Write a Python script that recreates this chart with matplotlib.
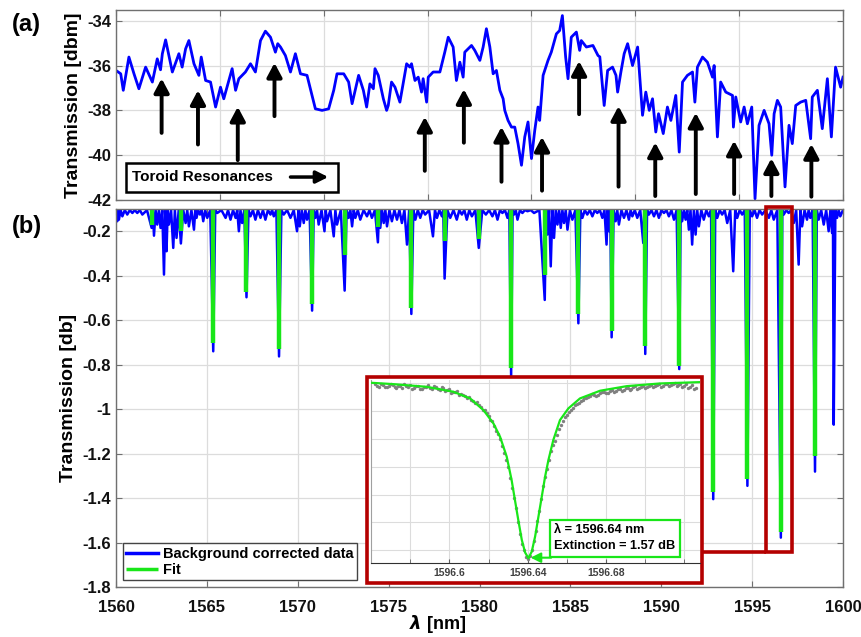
import numpy as np
import matplotlib.pyplot as plt
from matplotlib.patches import Rectangle

plt.rcParams['font.family'] = ['Liberation Sans', 'DejaVu Sans']
plt.rcParams['font.weight'] = 'bold'
plt.rcParams['axes.unicode_minus'] = False

# ---------------- (a) raw transmission [dBm] ----------------
lam_a = [1560.00, 1560.26, 1560.40, 1560.71, 1560.99, 1561.26, 1561.63, 1562.00, 1562.27, 1562.45,
         1562.55, 1562.73, 1563.10, 1563.46, 1563.64, 1563.83, 1564.01, 1564.29, 1564.56, 1564.69,
         1564.93, 1565.20, 1565.48, 1565.75, 1565.93, 1566.39, 1566.58, 1566.76, 1567.12, 1567.40,
         1567.67, 1567.95, 1568.22, 1568.50, 1568.77, 1568.90, 1569.05, 1569.32, 1569.60, 1569.87,
         1570.15, 1570.51, 1570.97, 1571.34, 1571.70, 1571.98, 1572.16, 1572.53, 1572.80, 1572.99,
         1573.35, 1573.61, 1573.79, 1573.97, 1574.16, 1574.25, 1574.43, 1574.71, 1574.89, 1574.98,
         1575.16, 1575.35, 1575.62, 1575.99, 1576.17, 1576.26, 1576.45, 1576.63, 1576.81, 1576.90,
         1577.09, 1577.18, 1577.45, 1577.82, 1578.09, 1578.28, 1578.55, 1578.73, 1578.92, 1579.10,
         1579.19, 1579.56, 1579.74, 1580.02, 1580.20, 1580.38, 1580.57, 1580.75, 1580.93, 1581.12,
         1581.30, 1581.39, 1581.57, 1581.76, 1581.94, 1582.12, 1582.31, 1582.49, 1582.67, 1582.86,
         1583.04, 1583.22, 1583.31, 1583.50, 1583.77, 1583.95, 1584.23, 1584.41, 1584.56, 1584.74,
         1584.87, 1585.05, 1585.33, 1585.51, 1585.60, 1585.88, 1586.24, 1586.52, 1586.62, 1586.86,
         1587.05, 1587.32, 1587.51, 1587.60, 1587.78, 1587.96, 1588.15, 1588.42, 1588.70, 1588.97,
         1589.15, 1589.34, 1589.52, 1589.70, 1589.85, 1590.11, 1590.34, 1590.53, 1590.80, 1590.99,
         1591.17, 1591.44, 1591.72, 1591.85, 1591.99, 1592.27, 1592.54, 1592.82, 1592.91, 1593.09,
         1593.27, 1593.55, 1593.92, 1593.97, 1594.10, 1594.37, 1594.56, 1594.74, 1594.98, 1595.16,
         1595.38, 1595.66, 1595.93, 1596.08, 1596.21, 1596.39, 1596.57, 1596.81, 1597.03, 1597.21,
         1597.40, 1597.67, 1597.95, 1598.22, 1598.31, 1598.59, 1598.86, 1599.14, 1599.36, 1599.59,
         1599.87, 1600.00]
trans_a = [-36.21, -36.36, -37.10, -35.61, -36.36, -37.03, -36.06, -36.73, -35.69, -36.18,
           -35.46, -34.84, -36.28, -35.46, -36.06, -35.24, -34.87, -35.91, -36.43, -35.61,
           -36.66, -36.73, -37.85, -36.96, -37.48, -36.13, -37.10, -36.58, -36.28, -35.91,
           -36.28, -34.87, -34.45, -34.72, -35.39, -35.01, -35.16, -35.54, -36.28, -35.46,
           -36.36, -36.43, -37.93, -38.00, -37.93, -37.10, -36.36, -36.36, -36.73, -37.70,
           -36.43, -37.10, -37.85, -36.81, -37.03, -36.13, -36.43, -37.48, -38.00, -37.78,
           -36.73, -36.96, -37.63, -35.91, -36.06, -35.91, -36.66, -36.51, -37.18, -36.58,
           -37.63, -36.51, -36.28, -36.28, -35.39, -34.72, -35.16, -36.66, -35.84, -36.51,
           -35.39, -35.09, -35.31, -35.76, -35.16, -34.34, -35.16, -36.36, -36.21, -37.10,
           -37.48, -38.00, -38.45, -38.75, -38.75, -39.49, -40.46, -39.19, -38.52, -40.16,
           -38.90, -37.85, -38.45, -36.43, -35.76, -35.39, -34.57, -34.42, -33.75, -35.61,
           -36.58, -34.72, -34.49, -35.31, -34.87, -35.16, -35.09, -35.54, -35.60, -37.78,
           -36.21, -36.06, -36.43, -37.18, -36.28, -35.46, -35.01, -35.99, -35.16, -38.22,
           -37.18, -38.00, -37.48, -38.97, -38.15, -39.04, -37.85, -38.45, -37.33, -39.87,
           -36.73, -36.43, -36.28, -37.63, -36.06, -35.61, -35.84, -36.51, -35.99, -39.19,
           -36.73, -37.18, -37.33, -38.75, -37.40, -38.52, -37.85, -38.60, -37.85, -41.96,
           -38.67, -38.00, -38.60, -40.01, -38.15, -37.55, -37.85, -41.43, -38.67, -39.49,
           -37.78, -37.63, -37.55, -39.27, -37.40, -37.10, -38.82, -36.58, -39.19, -36.06,
           -36.96, -36.51]

arrow_lam = [1562.51, 1564.51, 1566.70, 1568.72, 1576.99, 1579.14, 1581.21, 1583.44,
             1585.48, 1587.65, 1589.67, 1591.90, 1594.01, 1596.06, 1598.26]
arrow_tip = [-36.57, -37.10, -37.84, -35.87, -38.29, -37.05, -38.74, -39.19,
             -35.79, -37.81, -39.44, -38.11, -39.36, -40.15, -39.51]
arrow_tail = [-39.01, -39.53, -40.23, -38.26, -40.71, -39.45, -41.20, -41.60,
              -38.17, -41.42, -41.84, -41.75, -41.75, -41.84, -41.87]

# ---------------- (b) background corrected [dB] ----------------
res_lam = [1561.96, 1563.57, 1565.35, 1567.18, 1568.97, 1570.79, 1572.58, 1574.41, 1576.25, 1578.08,
           1579.96, 1581.74, 1583.59, 1585.44, 1587.27, 1589.12, 1590.99, 1592.86, 1594.74, 1596.58,
           1598.46]
fit_depth = [-0.17, -0.20, -0.703, -0.473, -0.73, -0.526, -0.305, -0.183, -0.545, -0.245,
             -0.237, -0.815, -0.395, -0.571, -0.65, -0.718, -0.808, -1.371, -1.315, -1.554,
             -1.209]
data_depth = [-0.185, -0.255, -0.74, -0.497, -0.763, -0.557, -0.467, -0.25, -0.572, -0.413,
              -0.275, -0.853, -0.509, -0.614, -0.677, -0.752, -0.82, -1.405, -1.345, -1.578,
              -1.281]

spike_lam = [1560.07, 1560.16, 1560.35, 1560.62, 1560.90, 1561.17, 1561.45, 1562.09, 1562.27, 1562.45,
             1562.64, 1562.78, 1562.91, 1563.15, 1563.33, 1563.83, 1564.01, 1564.29, 1564.43, 1564.62,
             1564.80, 1565.02, 1565.57, 1566.03, 1566.30, 1566.58, 1566.76, 1566.94, 1567.40, 1567.67,
             1567.95, 1568.22, 1568.50, 1568.68, 1569.23, 1569.60, 1569.96, 1570.11, 1570.33, 1570.51,
             1570.97, 1571.15, 1571.47, 1571.61, 1571.98, 1572.16, 1572.80, 1572.99, 1573.17, 1573.44,
             1573.81, 1574.08, 1574.54, 1574.73, 1574.91, 1575.18, 1575.46, 1575.73, 1576.01, 1576.47,
             1576.74, 1577.01, 1577.44, 1577.66, 1577.93, 1578.39, 1578.75, 1579.03, 1579.30, 1579.58,
             1580.35, 1580.71, 1580.99, 1581.26, 1581.54, 1581.90, 1582.09, 1582.36, 1582.64, 1583.00,
             1583.74, 1583.92, 1584.10, 1584.29, 1584.47, 1584.65, 1584.84, 1585.11, 1585.66, 1585.93,
             1586.21, 1586.48, 1586.76, 1586.99, 1587.12, 1587.49, 1587.67, 1587.95, 1588.22, 1588.41,
             1588.68, 1589.01, 1589.32, 1589.60, 1589.87, 1590.15, 1590.42, 1590.70, 1591.15, 1591.34,
             1591.52, 1591.70, 1591.89, 1592.07, 1592.34, 1592.62, 1593.08, 1593.35, 1593.63, 1593.96,
             1594.18, 1594.45, 1595.00, 1595.27, 1595.55, 1595.92, 1596.19, 1596.74, 1597.01, 1597.29,
             1597.56, 1597.75, 1598.02, 1598.20, 1598.66, 1598.94, 1599.21, 1599.40, 1599.49, 1599.67,
             1599.85]
spike_depth = [-0.155, -0.148, -0.133, -0.125, -0.118, -0.118, -0.125, -0.22, -0.17, -0.185,
               -0.395, -0.29, -0.17, -0.275, -0.23, -0.163, -0.178, -0.193, -0.14, -0.125,
               -0.155, -0.14, -0.118, -0.14, -0.148, -0.14, -0.20, -0.163, -0.133, -0.148,
               -0.14, -0.148, -0.125, -0.133, -0.125, -0.14, -0.20, -0.178, -0.163, -0.148,
               -0.14, -0.17, -0.20, -0.155, -0.223, -0.17, -0.14, -0.178, -0.14, -0.148,
               -0.133, -0.14, -0.185, -0.163, -0.178, -0.155, -0.148, -0.163, -0.26, -0.148,
               -0.14, -0.125, -0.223, -0.14, -0.133, -0.14, -0.148, -0.125, -0.148, -0.133,
               -0.125, -0.133, -0.148, -0.118, -0.14, -0.125, -0.148, -0.118, -0.11, -0.118,
               -0.215, -0.358, -0.23, -0.17, -0.185, -0.163, -0.193, -0.148, -0.14, -0.125,
               -0.133, -0.118, -0.14, -0.26, -0.20, -0.155, -0.17, -0.14, -0.148, -0.133,
               -0.14, -0.253, -0.125, -0.133, -0.14, -0.118, -0.133, -0.148, -0.155, -0.148,
               -0.193, -0.26, -0.215, -0.178, -0.148, -0.133, -0.14, -0.125, -0.163, -0.38,
               -0.14, -0.125, -0.133, -0.14, -0.125, -0.14, -0.148, -0.125, -0.118, -0.163,
               -0.35, -0.178, -0.148, -0.14, -0.148, -0.17, -0.20, -0.208, -1.07, -0.14,
               -0.133]

# ---------------- inset: resonance at 1596.64 nm ----------------
fit_lam_in = [1596.5603, 1596.5714, 1596.5884, 1596.6020, 1596.6106, 1596.6174, 1596.6225, 1596.6259,
              1596.6293, 1596.6318, 1596.6335, 1596.6352, 1596.6370, 1596.6387, 1596.6404, 1596.6421,
              1596.6438, 1596.6455, 1596.6472, 1596.6489, 1596.6506, 1596.6531, 1596.6565, 1596.6608,
              1596.6667, 1596.6770, 1596.6906, 1596.7076, 1596.7280]
fit_val_in = [0.0, -0.012, -0.036, -0.080, -0.140, -0.244, -0.363, -0.483,
              -0.661, -0.870, -1.049, -1.227, -1.406, -1.519, -1.570, -1.510,
              -1.376, -1.198, -1.019, -0.840, -0.691, -0.512, -0.334, -0.229,
              -0.140, -0.071, -0.030, -0.006, 0.006]
# measured points, two interleaved sweeps
dots_val_a = [-0.010, -0.035, -0.020, -0.042, -0.015, -0.038, -0.025, -0.050, -0.030, -0.020,
              -0.045, -0.028, -0.060, -0.035, -0.048, -0.025, -0.055, -0.040, -0.070, -0.055,
              -0.080, -0.075, -0.100, -0.115, -0.125, -0.160, -0.175, -0.215, -0.245, -0.300,
              -0.345, -0.430, -0.500, -0.630, -0.750, -0.945, -1.120, -1.355, -1.495, -1.575,
              -1.500, -1.330, -1.150, -0.920, -0.775, -0.610, -0.520, -0.410, -0.345, -0.285,
              -0.240, -0.200, -0.180, -0.150, -0.140, -0.120, -0.105, -0.110, -0.085, -0.095,
              -0.070, -0.080, -0.060, -0.072, -0.050, -0.062, -0.040, -0.055, -0.035, -0.048,
              -0.025, -0.040, -0.020, -0.035, -0.015, -0.030, -0.010, -0.025, -0.012, -0.030,
              -0.045, -0.020, -0.050]
dots_val_b = [-0.028, -0.012, -0.040, -0.030, -0.018, -0.045, -0.032, -0.015, -0.042, -0.060,
              -0.030, -0.052, -0.038, -0.022, -0.058, -0.040, -0.065, -0.048, -0.062, -0.090,
              -0.085, -0.110, -0.105, -0.140, -0.150, -0.185, -0.200, -0.240, -0.270, -0.330,
              -0.385, -0.460, -0.570, -0.690, -0.850, -1.030, -1.250, -1.440, -1.560, -1.550,
              -1.420, -1.240, -1.040, -0.840, -0.690, -0.560, -0.470, -0.380, -0.310, -0.260,
              -0.225, -0.190, -0.160, -0.135, -0.125, -0.100, -0.115, -0.090, -0.080, -0.088,
              -0.065, -0.075, -0.052, -0.065, -0.045, -0.058, -0.030, -0.048, -0.025, -0.042,
              -0.018, -0.032, -0.012, -0.028, -0.008, -0.022, -0.005, -0.018, -0.035, -0.015,
              -0.040, -0.055]
dots_lam_a = np.linspace(1596.562, 1596.726, len(dots_val_a))
dots_lam_b = np.linspace(1596.563, 1596.725, len(dots_val_b))

BLUE = '#0000ff'
GREEN = '#19e619'
RED = '#b40000'
GRID = '#dcdcdc'
SPINE = '#707070'

fig = plt.figure(figsize=(8.62, 6.37), dpi=100)
W, H = 862.0, 637.0
ax_a = fig.add_axes([116 / W, 1 - 199.6 / H, 727 / W, 189.6 / H])
ax_b = fig.add_axes([116 / W, 1 - 587 / H, 727 / W, 378 / H])

for ax in (ax_a, ax_b):
    for s in ax.spines.values():
        s.set_color(SPINE)
        s.set_linewidth(1.0)
    ax.tick_params(direction='in', top=True, right=True, colors=SPINE, labelcolor='#111111',
                   labelsize=12, length=4)
    ax.grid(True, color=GRID, lw=0.9)
    ax.set_axisbelow(True)

# ----- panel (a)
ax_a.plot(lam_a, trans_a, color=BLUE, lw=2.0, solid_joinstyle='round')
ax_a.set_xlim(1560, 1600)
ax_a.set_ylim(-42, -33.5)
ax_a.set_xticks(np.linspace(1560, 1600, 8))
ax_a.set_xticklabels([])
ax_a.set_yticks([-42, -40, -38, -36, -34])
ax_a.set_yticklabels(['-42', '-40', '-38', '-36', '-34'])
ax_a.set_ylabel('Transmission [dbm]', fontsize=14, fontweight='bold', labelpad=4)

for x, t0, t1 in zip(arrow_lam, arrow_tail, arrow_tip):
    ax_a.annotate('', xy=(x, t1), xytext=(x, t0),
                  arrowprops=dict(arrowstyle='-|>,head_length=0.6,head_width=0.32',
                                  color='k', lw=2.8, mutation_scale=14,
                                  shrinkA=0, shrinkB=0))

ax_a.add_patch(Rectangle((0.0133, 0.042), 0.292, 0.153, transform=ax_a.transAxes,
                         fc='white', ec='k', lw=1.8, zorder=4))
ax_a.text(0.022, 0.119, 'Toroid Resonances', transform=ax_a.transAxes, fontsize=11,
          fontweight='bold', va='center', ha='left', zorder=5)
ax_a.annotate('', xy=(0.292, 0.119), xytext=(0.240, 0.119), xycoords='axes fraction',
              arrowprops=dict(arrowstyle='-|>,head_length=0.6,head_width=0.3', color='k',
                              lw=2.5, mutation_scale=12, shrinkA=0, shrinkB=0), zorder=5)

# ----- panel (b)
bl = np.array(spike_lam + res_lam)
bd = np.array(spike_depth + data_depth)
order = np.argsort(bl)
bl, bd = bl[order], bd[order]
xb = np.empty(2 * len(bl) + 1)
yb = np.full(2 * len(bl) + 1, -0.105)
xb[1:-1:2] = bl
yb[1:-1:2] = bd
xb[2:-1:2] = (bl[:-1] + bl[1:]) / 2
xb[0], xb[-1] = 1560, 1600
ax_b.plot(xb, yb, color=BLUE, lw=1.8, label='Background corrected data')

n = len(res_lam)
xg = np.column_stack([res_lam, res_lam, np.full(n, np.nan)]).ravel()
yg = np.column_stack([np.full(n, -0.1), fit_depth, np.full(n, np.nan)]).ravel()
ax_b.plot(xg, yg, color=GREEN, lw=3.2, solid_capstyle='butt', label='Fit')

ax_b.set_xlim(1560, 1600)
ax_b.set_ylim(-1.8, -0.1)
ax_b.set_xticks(np.arange(1560, 1601, 5))
ax_b.set_xticklabels([str(v) for v in range(1560, 1601, 5)])
yt = [-1.8, -1.6, -1.4, -1.2, -1.0, -0.8, -0.6, -0.4, -0.2]
ax_b.set_yticks(yt)
ax_b.set_yticklabels(['-1.8', '-1.6', '-1.4', '-1.2', '-1', '-0.8', '-0.6', '-0.4', '-0.2'])
ax_b.tick_params(axis='x', pad=9)
ax_b.set_ylabel('Transmission [db]', fontsize=14, fontweight='bold', labelpad=4)
ax_b.set_xlabel(r'$\lambda$ [nm]', fontsize=13, fontweight='bold')
ax_b.xaxis.set_label_coords(0.443, -0.07)

leg = ax_b.legend(loc='lower left', prop={'weight': 'bold', 'size': 10.5}, fancybox=False,
                  edgecolor='#444444', framealpha=1, borderaxespad=0.45, handlelength=2.2,
                  handletextpad=0.3, borderpad=0.25, labelspacing=0.15)
leg.get_frame().set_linewidth(1.0)
for h in leg.legend_handles:
    h.set_linewidth(2.5)

# highlight box around the zoomed resonance + connector to the inset
ax_b.add_patch(Rectangle((1595.77, -1.641), 1.43, 1.55, fill=False, ec=RED, lw=2.6,
                         clip_on=False, zorder=6))
ax_b.plot([1592.2, 1595.77], [-1.641, -1.641], color=RED, lw=2.6, zorder=6,
          solid_capstyle='butt')

# ----- inset
frame = Rectangle((366.7 / W, 1 - 582.7 / H), (702.3 - 366.7) / W, (582.7 - 377.3) / H,
                  transform=fig.transFigure, fc='white', ec=RED, lw=2.6, zorder=2)
fig.add_artist(frame)

ax_in = fig.add_axes([371 / W, 1 - 562.7 / H, 329 / W, 182.7 / H], zorder=3)
ax_in.scatter(dots_lam_a, dots_val_a, s=6, color='#808080', zorder=3, lw=0)
ax_in.scatter(dots_lam_b, dots_val_b, s=6, color='#808080', zorder=3, lw=0)
ax_in.plot(fit_lam_in, fit_val_in, color=GREEN, lw=1.6, zorder=4)
ax_in.set_xlim(1596.56, 1596.728)
ax_in.set_ylim(-1.61, 0.025)
ax_in.set_xticks([1596.6, 1596.64, 1596.68])
ax_in.set_xticklabels(['1596.6', '1596.64', '1596.68'])
ax_in.set_xticks([1596.58, 1596.62, 1596.66, 1596.70, 1596.72], minor=True)
ax_in.set_yticks([-1.5, -1.25, -1.0, -0.75, -0.5, -0.25, 0.0])
ax_in.tick_params(axis='y', left=False, labelleft=False)
ax_in.tick_params(axis='x', which='both', direction='in', length=3, labelsize=7.5,
                  labelcolor='#404040', colors='#606060', pad=4)
ax_in.grid(True, which='both', color=GRID, lw=0.8)
ax_in.set_axisbelow(True)
for side in ('top', 'right'):
    ax_in.spines[side].set_visible(False)
ax_in.spines['left'].set_color('#a0a0a0')
ax_in.spines['bottom'].set_color('#303030')

ax_in.text(1596.6535, -1.39, 'λ = 1596.64 nm\nExtinction = 1.57 dB', fontsize=9.2,
           fontweight='bold', va='center', ha='left', linespacing=1.45, zorder=6,
           bbox=dict(boxstyle='square,pad=0.35', fc='white', ec=GREEN, lw=1.6))
ax_in.annotate('', xy=(1596.6415, -1.565), xytext=(1596.6520, -1.565),
               arrowprops=dict(arrowstyle='-|>,head_length=0.6,head_width=0.3', color=GREEN,
                               lw=1.5, mutation_scale=10, shrinkA=0, shrinkB=0), zorder=6)

fig.text(12 / W, 1 - 24 / H, '(a)', fontsize=17, fontweight='bold', va='center', ha='left')
fig.text(12 / W, 1 - 226 / H, '(b)', fontsize=17, fontweight='bold', va='center', ha='left')

fig.savefig('out.png', dpi=100)
